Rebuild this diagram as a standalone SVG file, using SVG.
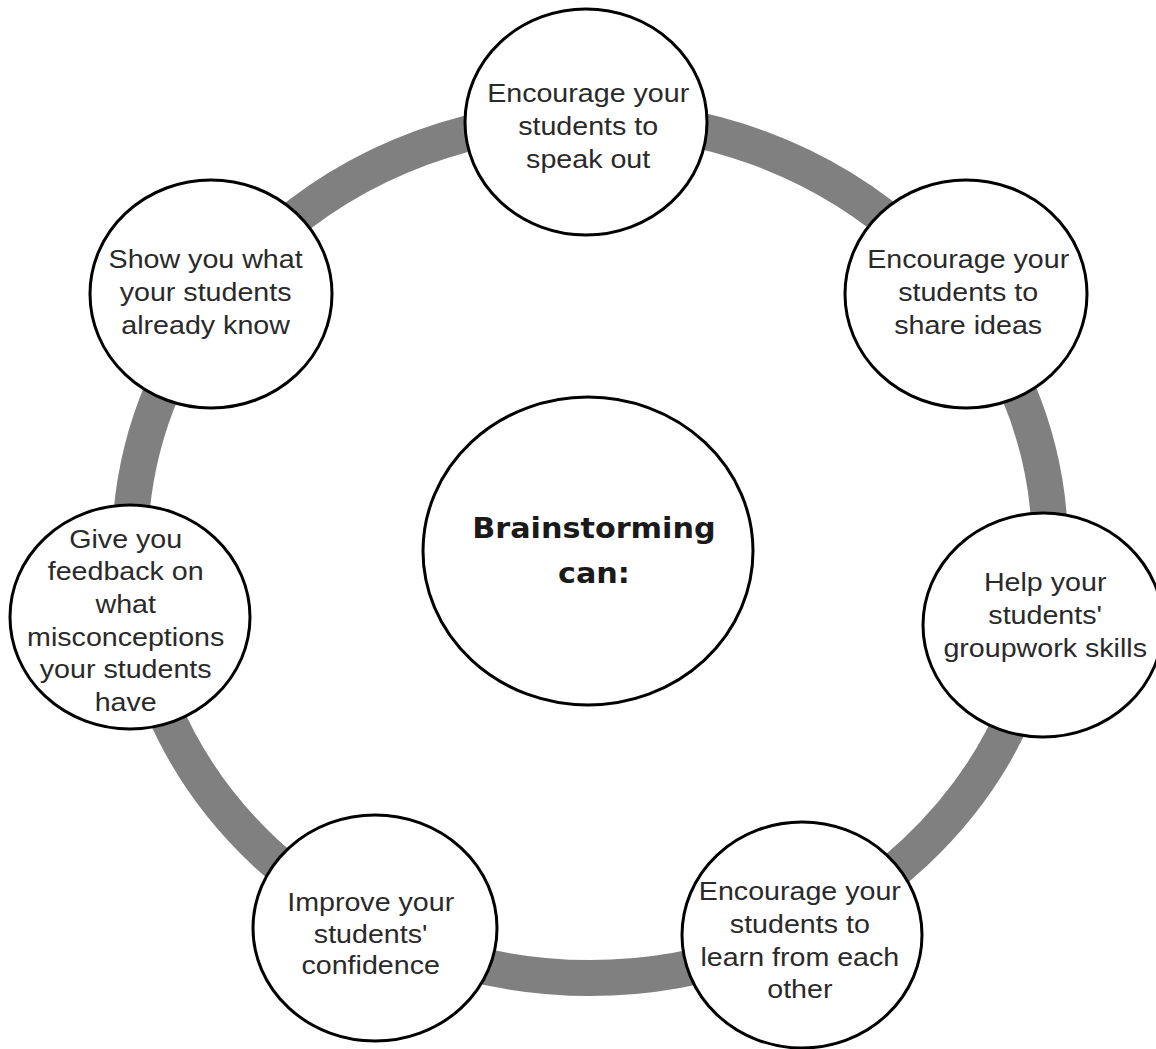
<svg xmlns="http://www.w3.org/2000/svg" width="1156" height="1049" viewBox="0 0 1156 1049">
<style>
.node{fill:#fff;stroke:#000;stroke-width:3}
.lbl{font-family:"Liberation Sans",Arial,sans-serif;font-size:26.5px;fill:#2a2a2a;text-anchor:middle}
.title{font-family:"DejaVu Sans",sans-serif;font-weight:bold;font-size:28px;fill:#1a1a1a;text-anchor:middle}
.ring{fill:none;stroke:#808080;stroke-width:36}
</style>
<rect width="1156" height="1049" fill="#fff"/>
<g id="connectors">
<ellipse class="ring" cx="590" cy="548" rx="460" ry="430"/>
</g>
<g id="center" transform="translate(588,551)">
<ellipse class="node" rx="165" ry="154"/>
<text class="title" transform="scale(1.08,1)"><tspan x="5.5" y="-13">Brainstorming</tspan><tspan x="5.5" y="32">can:</tspan></text>
</g>
<g id="n-speak" transform="translate(586,122)">
<ellipse class="node" rx="121" ry="113"/>
<text class="lbl" transform="scale(1.08,1)"><tspan x="2" y="-20">Encourage your</tspan><tspan x="2" y="13">students to</tspan><tspan x="2" y="46">speak out</tspan></text>
</g>
<g id="n-share" transform="translate(966,294)">
<ellipse class="node" rx="121" ry="114"/>
<text class="lbl" transform="scale(1.08,1)"><tspan x="2" y="-26">Encourage your</tspan><tspan x="2" y="7">students to</tspan><tspan x="2" y="40">share ideas</tspan></text>
</g>
<g id="n-group" transform="translate(1043,625)">
<ellipse class="node" rx="120" ry="112"/>
<text class="lbl" transform="scale(1.08,1)"><tspan x="2" y="-34">Help your</tspan><tspan x="2" y="-1">students'</tspan><tspan x="2" y="32">groupwork skills</tspan></text>
</g>
<g id="n-learn" transform="translate(802,935)">
<ellipse class="node" rx="120" ry="113"/>
<text class="lbl" transform="scale(1.08,1)"><tspan x="-2" y="-35">Encourage your</tspan><tspan x="-2" y="-2">students to</tspan><tspan x="-2" y="31">learn from each</tspan><tspan x="-2" y="63">other</tspan></text>
</g>
<g id="n-confidence" transform="translate(375,928)">
<ellipse class="node" rx="122" ry="113"/>
<text class="lbl" transform="scale(1.08,1)"><tspan x="-4" y="-17">Improve your</tspan><tspan x="-4" y="15">students'</tspan><tspan x="-4" y="46">confidence</tspan></text>
</g>
<g id="n-feedback" transform="translate(130,617)">
<ellipse class="node" rx="120" ry="112"/>
<text class="lbl" transform="scale(1.08,1)"><tspan x="-4" y="-69">Give you</tspan><tspan x="-4" y="-37">feedback on</tspan><tspan x="-4" y="-4">what</tspan><tspan x="-4" y="29">misconceptions</tspan><tspan x="-4" y="61">your students</tspan><tspan x="-4" y="94">have</tspan></text>
</g>
<g id="n-know" transform="translate(211,294)">
<ellipse class="node" rx="121" ry="114"/>
<text class="lbl" transform="scale(1.08,1)"><tspan x="-5" y="-26">Show you what</tspan><tspan x="-5" y="7">your students</tspan><tspan x="-5" y="40">already know</tspan></text>
</g>
</svg>
